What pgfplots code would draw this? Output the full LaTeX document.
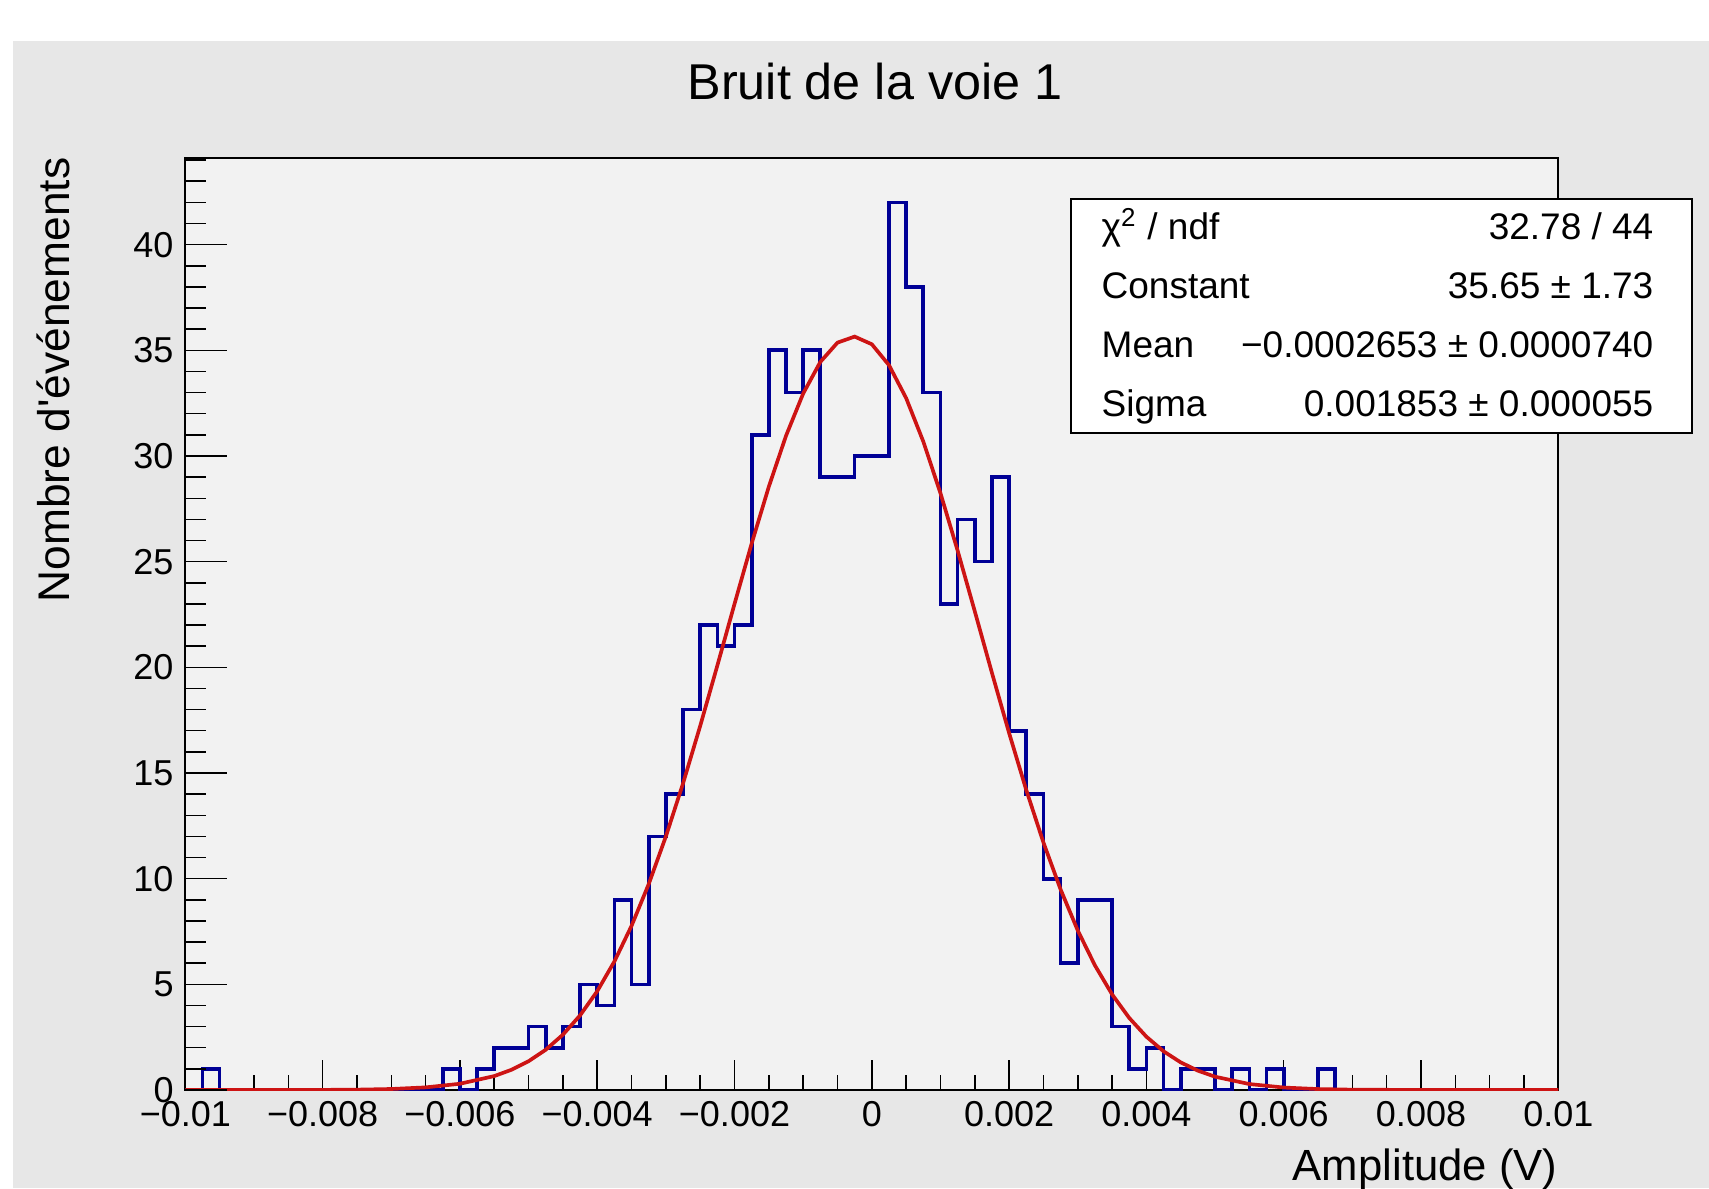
\documentclass[border=0pt]{standalone}
\usepackage{pgfplots}
\pgfplotsset{compat=1.18}
\usepackage{fontspec}
\setmainfont{Liberation Sans}
\definecolor{canvasbg}{RGB}{231,231,231}
\definecolor{plotbg}{RGB}{242,242,242}
\definecolor{histblue}{RGB}{0,0,150}
\definecolor{fitred}{RGB}{205,20,20}
\begin{document}
\begin{tikzpicture}
\fill[white] (0,0) rectangle (512.7pt,356.4pt);
\fill[canvasbg] (3.9pt,0) rectangle (512.7pt,344.1pt);
\begin{axis}[
  at={(55.59pt,29.4pt)}, anchor=south west,
  scale only axis, width=411.9pt, height=279.6pt,
  xmin=-0.01, xmax=0.01, ymin=0, ymax=44.1,
  axis background/.style={fill=plotbg},
  axis line style={line width=0.6pt},
  xtick pos=bottom, ytick pos=left,
  tick align=inside,
  xtick={-0.01,-0.008,-0.006,-0.004,-0.002,0,0.002,0.004,0.006,0.008,0.01},
  xticklabels={−0.01,−0.008,−0.006,−0.004,−0.002,0,0.002,0.004,0.006,0.008,0.01},
  scaled x ticks=false,
  minor x tick num=3,
  ytick=\empty,
  major tick length=9pt, minor tick length=4.5pt,
  tick style={black, line width=0.45pt},
  xticklabel style={font=\fontsize{10.8}{12}\selectfont},
]
\addplot[const plot, histblue, line width=1.1pt] table {
x y
-0.01 0
-0.00975 1
-0.0095 0
-0.00625 1
-0.006 0
-0.00575 1
-0.0055 2
-0.00525 2
-0.005 3
-0.00475 2
-0.0045 3
-0.00425 5
-0.004 4
-0.00375 9
-0.0035 5
-0.00325 12
-0.003 14
-0.00275 18
-0.0025 22
-0.00225 21
-0.002 22
-0.00175 31
-0.0015 35
-0.00125 33
-0.001 35
-0.00075 29
-0.0005 29
-0.00025 30
0 30
0.00025 42
0.0005 38
0.00075 33
0.001 23
0.00125 27
0.0015 25
0.00175 29
0.002 17
0.00225 14
0.0025 10
0.00275 6
0.003 9
0.00325 9
0.0035 3
0.00375 1
0.004 2
0.00425 0
0.0045 1
0.00475 1
0.005 0
0.00525 1
0.0055 0
0.00575 1
0.006 0
0.0065 1
0.00675 0
0.01 0
};
\addplot[fitred, line width=1.1pt] table {
x y
-0.01 0
-0.009 0.0005
-0.008 0.006
-0.0075 0.017
-0.007 0.048
-0.0065 0.124
-0.006 0.296
-0.0055 0.659
-0.00525 0.956
-0.005 1.361
-0.00475 1.905
-0.0045 2.617
-0.00425 3.530
-0.004 4.675
-0.00375 6.081
-0.0035 7.767
-0.00325 9.741
-0.003 11.995
-0.00275 14.505
-0.0025 17.225
-0.00225 20.084
-0.002 22.999
-0.00175 25.859
-0.0015 28.549
-0.00125 30.953
-0.001 32.953
-0.00075 34.449
-0.0005 35.364
-0.00025 35.649
0 35.287
0.00025 34.299
0.0005 32.738
0.00075 30.684
0.001 28.240
0.00125 25.522
0.0015 22.650
0.00175 19.736
0.002 16.890
0.00225 14.192
0.0025 11.711
0.00275 9.488
0.003 7.549
0.00325 5.898
0.0035 4.525
0.00375 3.409
0.004 2.522
0.00425 1.832
0.0045 1.307
0.00475 0.915
0.005 0.630
0.0055 0.282
0.006 0.117
0.0065 0.045
0.007 0.016
0.008 0.002
0.01 0
};
\end{axis}
\begin{axis}[
  at={(55.59pt,29.4pt)}, anchor=south west,
  scale only axis, width=411.9pt, height=279.6pt,
  xmin=-0.01, xmax=0.01, ymin=0, ymax=44.1,
  axis line style={draw=none},
  xtick=\empty,
  ytick pos=left, tick align=inside,
  ytick={0,5,10,15,20,25,30,35,40},
  yticklabels={0,5,10,15,20,25,30,35,40},
  minor ytick={1,2,3,4,6,7,8,9,11,12,13,14,16,17,18,19,21,22,23,24,26,27,28,29,31,32,33,34,36,37,38,39,41,42,43,44},
  major tick length=12.6pt, minor tick length=6.3pt,
  tick style={black, line width=0.45pt},
  yticklabel style={font=\fontsize{10.8}{12}\selectfont},
]
\end{axis}
% title and axis titles
\node[anchor=base, inner sep=0, font=\fontsize{15.1}{18}\selectfont] at (262.5pt,326.4pt) {Bruit de la voie 1};
\node[anchor=base east, inner sep=0, font=\fontsize{13.1}{16}\selectfont] at (467.4pt,2.2pt) {Amplitude (V)};
\node[rotate=90, anchor=base east, inner sep=0, font=\fontsize{13.3}{16}\selectfont] at (21pt,309.3pt) {Nombre d\textquotesingle événements};
% stats box
\draw[fill=white, line width=0.6pt] (321.3pt,226.6pt) rectangle (507.5pt,296.55pt);
\begin{scope}[every node/.style={inner sep=0, font=\fontsize{11.1}{13}\selectfont}]
\node[anchor=base west] at (330.3pt,284.4pt) {χ\textsuperscript{2} / ndf};
\node[anchor=base east] at (496.2pt,284.4pt) {32.78 / 44};
\node[anchor=base west] at (330.3pt,266.7pt) {Constant};
\node[anchor=base east] at (496.2pt,266.7pt) {35.65 ± 1.73};
\node[anchor=base west] at (330.3pt,249.0pt) {Mean};
\node[anchor=base east] at (496.2pt,249.0pt) {−0.0002653 ± 0.0000740};
\node[anchor=base west] at (330.3pt,231.3pt) {Sigma};
\node[anchor=base east] at (496.2pt,231.3pt) {0.001853 ± 0.000055};
\end{scope}
\pgfresetboundingbox
\useasboundingbox (0,0) rectangle (512.7pt,356.4pt);
\end{tikzpicture}
\end{document}
